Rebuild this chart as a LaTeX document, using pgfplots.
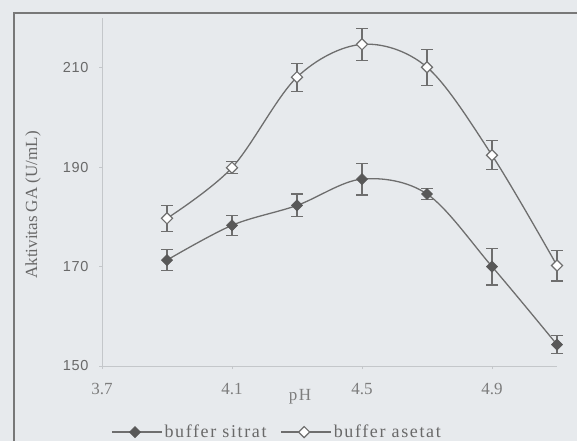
\documentclass[border=0pt]{standalone}
\usepackage{fontspec}
\setmainfont{Liberation Serif}
\setsansfont{Liberation Sans}
\newfontfamily\legf[LetterSpace=9]{Liberation Serif}
\usepackage{pgfplots}
\pgfplotsset{compat=1.18}
\definecolor{bg}{RGB}{231,234,237}
\definecolor{ln}{RGB}{110,110,110}
\definecolor{ax}{RGB}{196,199,202}
\definecolor{mk}{RGB}{88,88,88}
\definecolor{frm}{RGB}{120,120,120}
\definecolor{tx}{RGB}{105,105,105}
\definecolor{txl}{RGB}{125,125,125}
\begin{document}
\begin{tikzpicture}[x=1pt,y=1pt]
\fill[bg] (0,0) rectangle (577,441);
\draw[line width=2pt, frm] (13.5,0) -- (13.5,427.5) -- (577,427.5);
\begin{axis}[
  at={(102pt,75pt)}, anchor=south west,
  width=455pt, height=348pt, scale only axis,
  xmin=3.7, xmax=5.1, ymin=150, ymax=220,
  clip=false,
  axis lines=left,
  axis line style={-, draw=ax, line width=0.8pt},
  xtick={3.7,4.1,4.5,4.9},
  xticklabels={3.7,4.1,4.5,4.9},
  ytick={150,170,190,210},
  yticklabels={150,170,190,210},
  tick style={draw=ax, line width=0.8pt},
  tick align=outside,
  major tick length=3pt,
  x tick label style={font=\fontsize{17}{20}\selectfont, text=txl, yshift=-11pt},
  y tick label style={font=\sffamily\fontsize{14.5}{16}\selectfont\addfontfeature{LetterSpace=5}, text=tx, xshift=-7pt},
  legend columns=2,
  legend style={at={(rel axis cs:0.02,-0.19)}, anchor=west, draw=none, fill=none,
    font=\legf\fontsize{18}{20}\selectfont, text=tx, inner sep=0pt,
    /tikz/every even column/.append style={column sep=12pt}},
  legend image code/.code={\draw[mark repeat=2, mark phase=2, #1] plot coordinates {(0pt,0pt) (23pt,0pt) (50pt,0pt)};},
]
\addplot+[smooth, tension=0.55, draw=ln, line width=1.3pt,
  mark=square*, mark size=3.9pt, mark options={rotate=45, fill=mk, draw=mk, line width=0.6pt},
  error bars/.cd, y dir=both, y explicit,
  error bar style={draw=ln, line width=1.1pt},
  error mark options={draw=ln, line width=1.1pt, mark size=6pt, rotate=90}]
  coordinates {
  (3.9,171.3) +- (0,2.1)
  (4.1,178.3) +- (0,2.0)
  (4.3,182.3) +- (0,2.3)
  (4.5,187.6) +- (0,3.2)
  (4.7,184.6) +- (0,1.1)
  (4.9,170.0) +- (0,3.7)
  (5.1,154.3) +- (0,1.8)
  };
\addlegendentry{buffer sitrat}
\addplot+[smooth, tension=0.55, draw=ln, line width=1.3pt,
  mark=square*, mark size=3.9pt, mark options={rotate=45, fill=white, draw=ln, line width=1.2pt},
  error bars/.cd, y dir=both, y explicit,
  error bar style={draw=ln, line width=1.1pt},
  error mark options={draw=ln, line width=1.1pt, mark size=6pt, rotate=90}]
  coordinates {
  (3.9,179.7) +- (0,2.6)
  (4.1,189.9) +- (0,1.2)
  (4.3,208.1) +- (0,2.8)
  (4.5,214.7) +- (0,3.2)
  (4.7,210.1) +- (0,3.6)
  (4.9,192.4) +- (0,2.9)
  (5.1,170.2) +- (0,3.1)
  };
\addlegendentry{buffer asetat}
\end{axis}
\node[font=\legf\fontsize{17}{20}\selectfont, text=txl] at (300,44) {pH};
\node[rotate=90, font=\fontsize{17}{20}\selectfont, text=tx] at (33,236) {Aktivitas GA (U/mL)};
\pgfresetboundingbox
\path (0,0) rectangle (577,441);
\end{tikzpicture}
\end{document}
